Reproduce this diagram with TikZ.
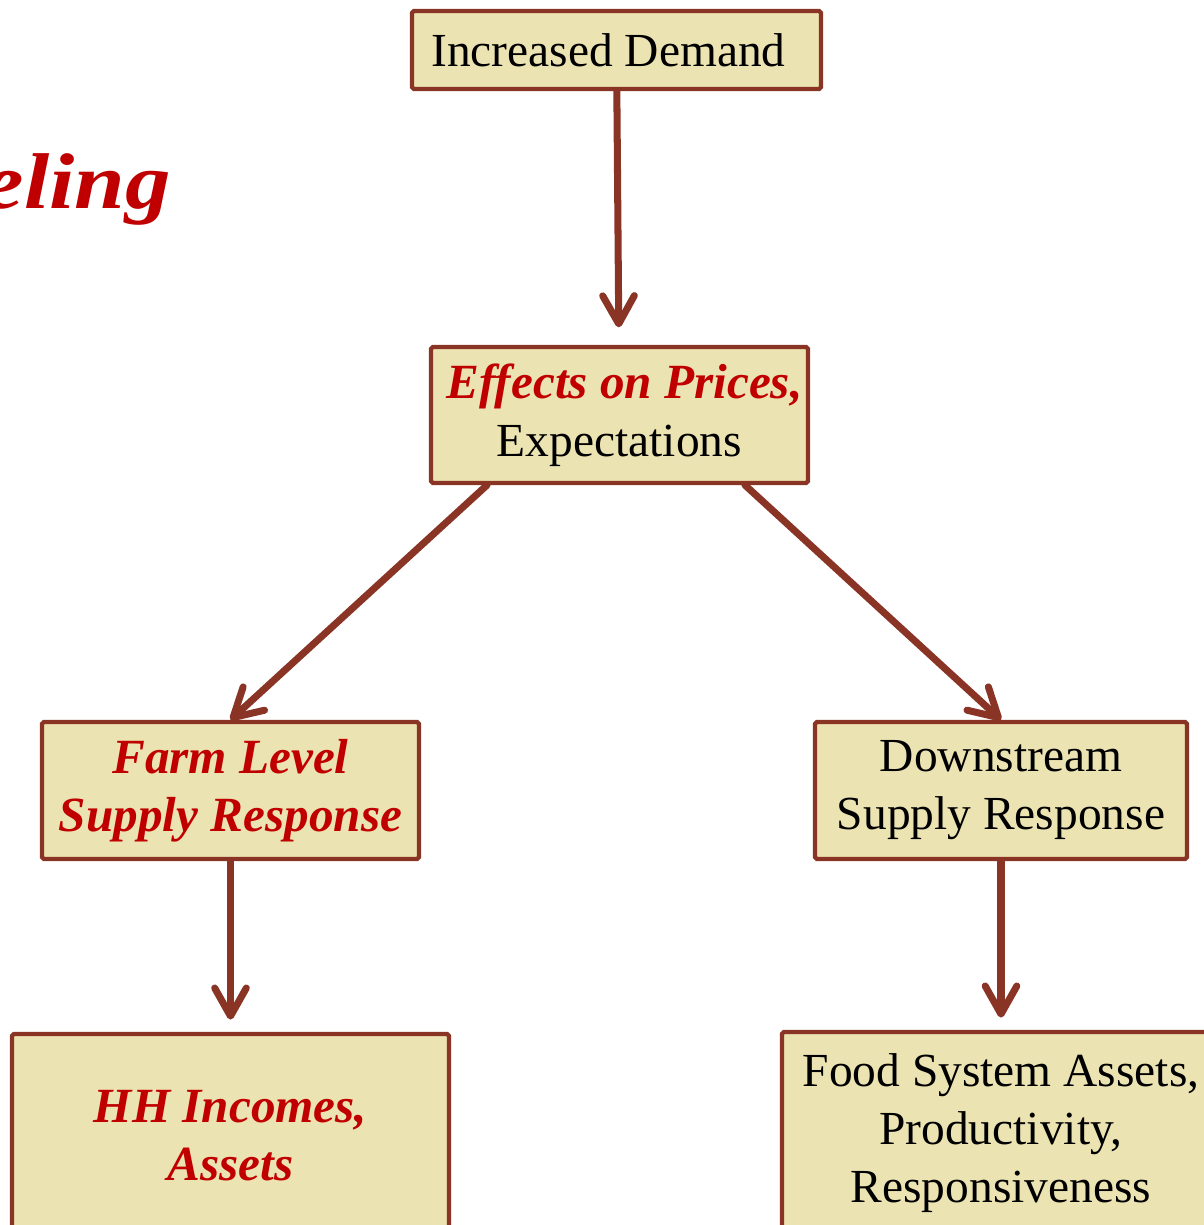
\documentclass[tikz,border=0pt]{standalone}
\usepackage{fontspec}
\setmainfont{Liberation Serif}
\usetikzlibrary{arrows.meta}
\definecolor{boxfill}{RGB}{236,227,178}
\definecolor{boxline}{RGB}{138,52,38}
\definecolor{hired}{RGB}{192,0,0}
\tikzset{
  block/.style={
    rectangle,
    draw=boxline,
    line width=2.4pt,
    fill=boxfill,
    rounded corners=1pt,
    inner sep=0pt,
    align=center,
    font=\fontsize{27}{33}\selectfont
  }
}
\tikzstyle{arrow} = [draw=boxline, line width=4pt, line cap=round, -{Straight Barb[length=16pt,width=18pt,line cap=round,line join=round]}]
\def\redtext#1{{\fontsize{28}{33}\selectfont\textcolor{hired}{\textbf{\textit{#1}}}}}

\begin{document}
\begin{tikzpicture}[x=0.02cm, y=-0.02cm]
    \useasboundingbox (0,0) rectangle (1204,1225);
    \node[anchor=base east, font=\fontsize{45}{54}\selectfont, xscale=1.15, transform shape] (title) at (178,208) {\textcolor{hired}{\textbf{\textit{Modeling}}}};
    \node[block, minimum width=8.18cm, minimum height=1.56cm] (b0) at (616.5,50) {Increased Demand\hspace*{0.32cm}};
    \node[block, minimum width=7.54cm, minimum height=2.72cm] (b1) at (619.5,415) {\hspace*{0.2cm}\redtext{Effects on Prices,}\\Expectations};
    \node[block, minimum width=7.54cm, minimum height=2.74cm] (b2) at (230.5,790.5) {\redtext{Farm Level}\\\redtext{Supply Response}};
    \node[block, minimum width=7.44cm, minimum height=2.74cm] (b3) at (1001,790.5) {Downstream\\Supply Response};
    \node[block, minimum width=8.74cm, minimum height=4.08cm] (b4) at (230.5,1136) {\redtext{HH Incomes,}\\\redtext{Assets}};
    \node[block, minimum width=8.76cm, minimum height=4.04cm] (b5) at (1001,1133) {Food System Assets,\\Productivity,\\Responsiveness};
    \draw[arrow, shorten >=10pt] (b0) to (b1);
    \draw[arrow] ([xshift=-2.65cm]b1.south) to (b2.north);
    \draw[arrow] ([xshift=2.51cm]b1.south) to (b3.north);
    \draw[arrow, shorten >=7pt] (b2) to (b4);
    \draw[arrow, shorten >=7pt] (b3) to (b5);
\end{tikzpicture}
\end{document}
